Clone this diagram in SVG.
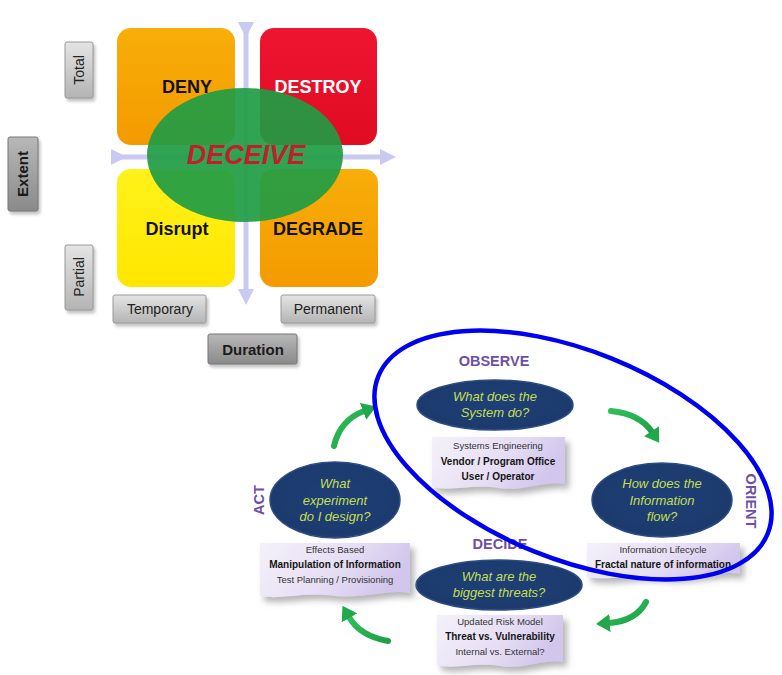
<svg xmlns="http://www.w3.org/2000/svg" width="782" height="675" viewBox="0 0 782 675">
<defs>
<style>
.q{font-family:"Liberation Sans",Arial,sans-serif;font-weight:bold;font-size:18px;text-anchor:middle}
.gl{font-family:"Liberation Sans",Arial,sans-serif;font-size:14px;fill:#222;text-anchor:middle}
.glb{font-family:"Liberation Sans",Arial,sans-serif;font-size:15px;font-weight:bold;fill:#1a1a1a;text-anchor:middle}
.ph{font-family:"Liberation Sans",Arial,sans-serif;font-size:14.5px;font-weight:bold;fill:#6E4FA6;text-anchor:middle}
.et{font-family:"Liberation Sans",Arial,sans-serif;font-size:13px;font-style:italic;fill:#C4DE50;text-anchor:middle}
.bt{font-family:"Liberation Sans",Arial,sans-serif;font-size:9.5px;fill:#333;text-anchor:middle}
.bb{font-family:"Liberation Sans",Arial,sans-serif;font-size:10px;font-weight:bold;fill:#151515;text-anchor:middle}
.nav{fill:url(#navy);stroke:#2B4C86;stroke-width:1.5}
.doc{fill:url(#lav);filter:url(#sh)}
.gbox{fill:url(#gray1);stroke:#9a9a9a;stroke-width:1}
.gbox2{fill:url(#gray2);stroke:#777;stroke-width:1}
.ax{stroke:#C9C9F2;stroke-width:5;fill:none}
.grn{stroke:url(#grg);stroke-width:6;fill:none;stroke-linecap:round;marker-end:url(#gh)}
</style>
<linearGradient id="gray1" x1="0" y1="0" x2="0" y2="1"><stop offset="0" stop-color="#e4e4e4"/><stop offset="1" stop-color="#b4b4b4"/></linearGradient>
<linearGradient id="gray2" x1="0" y1="0" x2="0" y2="1"><stop offset="0" stop-color="#b8b8b8"/><stop offset="1" stop-color="#8a8a8a"/></linearGradient>
<linearGradient id="orng" x1="0" y1="0" x2="0" y2="1"><stop offset="0" stop-color="#F8AE08"/><stop offset="1" stop-color="#F39A00"/></linearGradient>
<linearGradient id="redg" x1="0" y1="0" x2="0" y2="1"><stop offset="0" stop-color="#EE1530"/><stop offset="1" stop-color="#E00A22"/></linearGradient>
<linearGradient id="yelg" x1="0" y1="0" x2="0" y2="1"><stop offset="0" stop-color="#FFF21A"/><stop offset="1" stop-color="#FFE600"/></linearGradient>
<radialGradient id="navy" cx="0.5" cy="0.45" r="0.6"><stop offset="0" stop-color="#1E4078"/><stop offset="0.85" stop-color="#1C3A6C"/><stop offset="1" stop-color="#2A4E88"/></radialGradient>
<linearGradient id="lav" x1="0" y1="0" x2="1" y2="0.3"><stop offset="0" stop-color="#F4F1FA"/><stop offset="0.6" stop-color="#E6DEF4"/><stop offset="1" stop-color="#D2C6EC"/></linearGradient>
<linearGradient id="grg" x1="0" y1="0" x2="1" y2="1"><stop offset="0" stop-color="#2EBF5A"/><stop offset="1" stop-color="#1FA046"/></linearGradient>
<filter id="sh" x="-10%" y="-10%" width="130%" height="150%"><feDropShadow dx="4" dy="5" stdDeviation="3" flood-color="#777" flood-opacity="0.55"/></filter>
<filter id="sh2" x="-10%" y="-10%" width="130%" height="140%"><feDropShadow dx="2" dy="3" stdDeviation="1.5" flood-color="#888" flood-opacity="0.5"/></filter>
<marker id="ah" viewBox="0 0 16 16" refX="2" refY="8" markerWidth="16" markerHeight="16" markerUnits="userSpaceOnUse" orient="auto"><path d="M0,0 L16,8 L0,16 Z" fill="#C9C9F2"/></marker>
<marker id="gh" viewBox="0 0 14 18" refX="1" refY="9" markerWidth="14" markerHeight="18" markerUnits="userSpaceOnUse" orient="auto"><path d="M0,0 L14,9 L0,18 Z" fill="#22A84C"/></marker>
</defs>
<rect width="782" height="675" fill="#ffffff"/>

<g id="quadrants">
<g id="deny"><rect x="117" y="28" width="118" height="117" rx="14" fill="url(#orng)"/><text class="q" x="187" y="93" fill="#111">DENY</text></g>
<g id="destroy"><rect x="260" y="28" width="117" height="117" rx="14" fill="url(#redg)"/><text class="q" x="318" y="93" fill="#fff">DESTROY</text></g>
<g id="disrupt"><rect x="117" y="169" width="118" height="118" rx="14" fill="url(#yelg)"/><text class="q" x="177" y="235" fill="#111" font-size="19">Disrupt</text></g>
<g id="degrade"><rect x="260" y="169" width="118" height="118" rx="14" fill="url(#orng)"/><text class="q" x="318" y="235" fill="#111">DEGRADE</text></g>
</g>

<g id="axes">
<line class="ax" x1="246" y1="24" x2="246" y2="291" marker-start="url(#ah)" marker-end="url(#ah)"/>
<line class="ax" x1="113" y1="157" x2="382" y2="157" marker-start="url(#ah)" marker-end="url(#ah)"/>
</g>

<g id="deceive">
<ellipse cx="245" cy="155" rx="98" ry="67" fill="#1F9C44" fill-opacity="0.92"/>
<text x="246" y="164" font-family="Liberation Sans,Arial,sans-serif" font-size="27" font-weight="bold" font-style="italic" fill="#C0202C" text-anchor="middle">DECEIVE</text>
</g>

<g id="labels">
<g id="total"><rect class="gbox" x="65" y="42" width="28" height="56" rx="2" filter="url(#sh2)"/><text class="gl" transform="translate(84,70) rotate(-90)">Total</text></g>
<g id="partial"><rect class="gbox" x="65" y="245" width="28" height="65" rx="2" filter="url(#sh2)"/><text class="gl" transform="translate(84,277) rotate(-90)">Partial</text></g>
<g id="extent"><rect class="gbox2" x="8" y="137" width="30" height="74" rx="2" filter="url(#sh2)"/><text class="glb" transform="translate(28,174) rotate(-90)">Extent</text></g>
<g id="temporary"><rect class="gbox" x="113" y="295" width="93" height="28" rx="2" filter="url(#sh2)"/><text class="gl" x="160" y="314">Temporary</text></g>
<g id="permanent"><rect class="gbox" x="281" y="295" width="94" height="28" rx="2" filter="url(#sh2)"/><text class="gl" x="328" y="314">Permanent</text></g>
<g id="duration"><rect class="gbox2" x="208" y="334" width="89" height="30" rx="2" filter="url(#sh2)"/><text class="glb" x="253" y="355" font-size="16">Duration</text></g>
</g>

<g id="connectors">
<path class="grn" d="M334,446 Q340,420 364,411"/>
<path class="grn" d="M611,411 Q640,414 652,432"/>
<path class="grn" d="M646,602 Q636,621 609,623"/>
<path class="grn" d="M388,641 Q360,636 349,617"/>
</g>

<g id="observe">
<text class="ph" x="494" y="366">OBSERVE</text>
<ellipse class="nav" cx="495" cy="405" rx="78" ry="25"/>
<text class="et" x="495" y="401">What does the</text>
<text class="et" x="495" y="417">System do?</text>
<path class="doc" d="M432,437 H565 V484 C545,480 525,492 498,488 C470,484 452,492 432,487 Z"/>
<text class="bt" x="498" y="449">Systems Engineering</text>
<text class="bb" x="498" y="464.5">Vendor / Program Office</text>
<text class="bb" x="498" y="479.5">User / Operator</text>
</g>

<g id="orient">
<text class="ph" transform="translate(746,501) rotate(90)" font-size="15">ORIENT</text>
<ellipse class="nav" cx="662" cy="500" rx="70" ry="37"/>
<text class="et" x="662" y="488">How does the</text>
<text class="et" x="662" y="505">Information</text>
<text class="et" x="662" y="521">flow?</text>
<path class="doc" d="M587,543 H740 V574 C718,570 695,580 663,577 C630,574 610,581 587,577 Z"/>
<text class="bt" x="663" y="553">Information Lifecycle</text>
<text class="bb" x="663" y="568">Fractal nature of information</text>
</g>

<g id="decide">
<text class="ph" x="500" y="549">DECIDE</text>
<ellipse class="nav" cx="499" cy="585" rx="83" ry="25"/>
<text class="et" x="499" y="581">What are the</text>
<text class="et" x="499" y="597">biggest threats?</text>
<path class="doc" d="M437,615 H563 V662 C545,658 525,670 500,666 C472,662 455,670 437,665 Z"/>
<text class="bt" x="500" y="625">Updated Risk Model</text>
<text class="bb" x="500" y="640">Threat vs. Vulnerability</text>
<text class="bt" x="500" y="655">Internal vs. External?</text>
</g>

<g id="act">
<text class="ph" transform="translate(264,500) rotate(-90)">ACT</text>
<ellipse class="nav" cx="335" cy="500" rx="65" ry="38"/>
<text class="et" x="335" y="488">What</text>
<text class="et" x="335" y="505">experiment</text>
<text class="et" x="335" y="521">do I design?</text>
<path class="doc" d="M260,543 H410 V593 C388,589 365,599 335,596 C300,592 282,600 260,596 Z"/>
<text class="bt" x="335" y="553">Effects Based</text>
<text class="bb" x="335" y="568">Manipulation of Information</text>
<text class="bt" x="335" y="583">Test Planning / Provisioning</text>
</g>

<g id="highlight">
<ellipse cx="573" cy="455" rx="210" ry="104" transform="rotate(22 573 455)" fill="none" stroke="#0000F0" stroke-width="4.5"/>
</g>
</svg>
